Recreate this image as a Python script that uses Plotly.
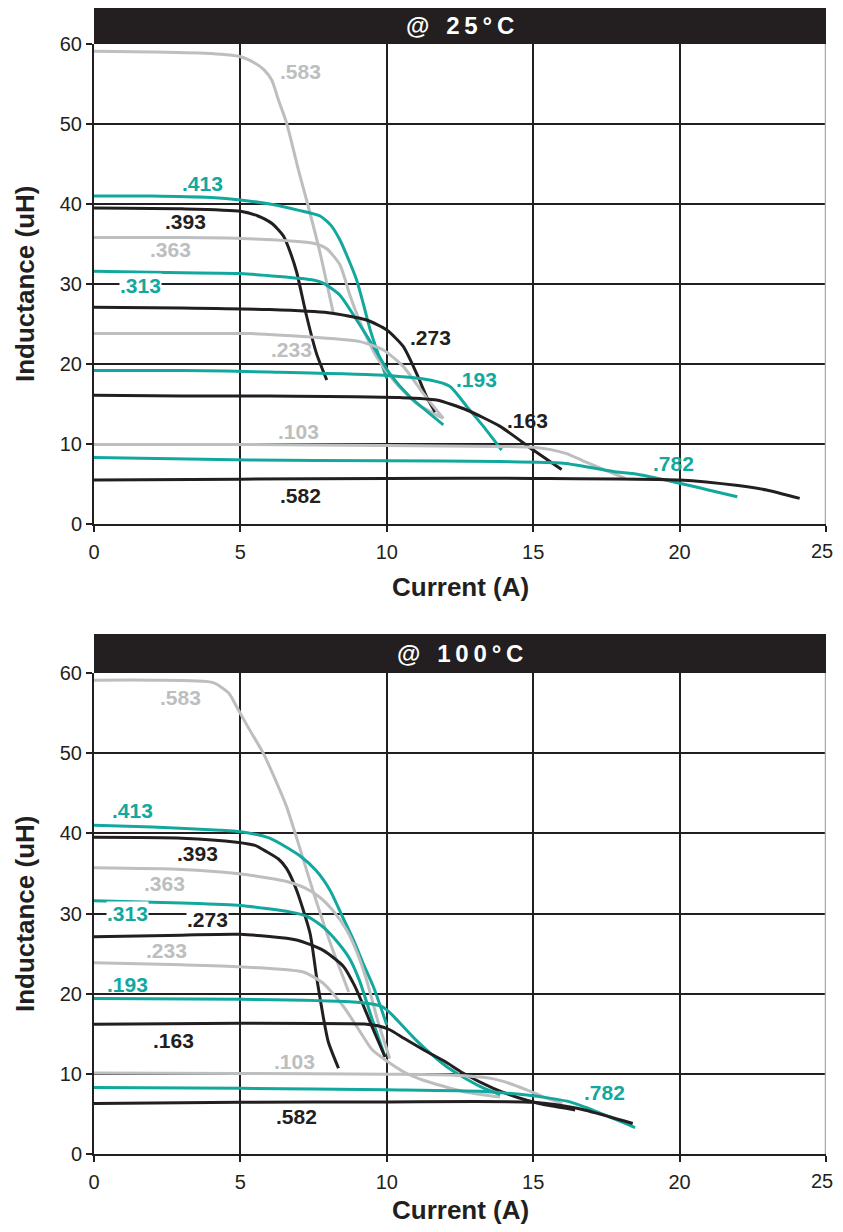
import plotly.graph_objects as go

TEAL = "#12a89e"
GRAY = "#bcbec0"
BLACK = "#231f20"
FONT = "Liberation Sans, Arial, sans-serif"

# ---------------- @ 25 °C : current (A) / inductance (uH) ----------------
I25_583 = [0, 2, 4, 5, 5.5, 5.8, 6.07, 6.3, 6.58, 7.0, 7.26, 7.72, 8.17]
L25_583 = [59.1, 59.0, 58.8, 58.4, 57.6, 56.8, 55.5, 53.0, 50.1, 44.0, 40.5, 33.9, 26.4]
I25_413 = [0, 2, 4, 5, 6, 7, 7.72, 8.1, 8.4, 8.7, 8.97, 9.2, 9.43, 9.7, 10.0]
L25_413 = [41.0, 41.0, 40.8, 40.5, 40.0, 39.2, 38.5, 37.3, 35.5, 33.0, 30.5, 27.5, 24.3, 21.3, 18.2]
I25_393 = [0, 3, 5, 5.6, 6.1, 6.47, 6.7, 6.92, 7.26, 7.6, 7.95]
L25_393 = [39.5, 39.4, 39.1, 38.5, 37.5, 36.0, 34.0, 31.5, 26.0, 21.3, 18.0]
I25_363 = [0, 3, 5, 7.49, 7.95, 8.4, 8.74, 9.2, 9.65, 10.22, 11.0, 11.93]
L25_363 = [35.8, 35.8, 35.7, 35.1, 34.4, 32.4, 28.6, 24.25, 20.9, 18.0, 15.1, 13.2]
I25_313 = [0, 3, 5, 7.49, 7.83, 8.4, 8.97, 9.54, 10.1, 10.79, 11.93]
L25_313 = [31.6, 31.4, 31.3, 30.5, 30.1, 28.6, 25.5, 22.2, 18.8, 15.9, 12.4]
I25_273 = [0, 3, 6, 8, 9.31, 10.0, 10.56, 11.02, 11.36, 11.65]
L25_273 = [27.1, 27.0, 26.8, 26.4, 25.5, 24.25, 22.2, 18.8, 15.9, 14.0]
I25_233 = [0, 3, 5.33, 9.08, 9.88, 10.56, 11.25, 11.93]
L25_233 = [23.8, 23.8, 23.8, 22.8, 21.75, 19.7, 16.3, 13.2]
I25_193 = [0, 3, 6, 9.88, 11.47, 12.16, 12.73, 13.3, 13.92]
L25_193 = [19.2, 19.2, 19.0, 18.6, 18.0, 17.2, 14.7, 12.2, 9.25]
I25_163 = [0, 3, 6, 10.45, 11.7, 12.73, 13.87, 15.0, 15.97]
L25_163 = [16.1, 16.0, 16.0, 15.8, 15.5, 14.25, 12.2, 9.25, 6.8]
I25_103 = [0, 5, 10, 14, 15, 15.6, 16.14, 16.7, 17.28, 18.15]
L25_103 = [9.95, 9.95, 9.8, 9.7, 9.6, 9.3, 8.8, 7.9, 7.0, 5.7]
I25_782 = [0, 5.33, 10, 13.87, 16.03, 17.85, 18.4, 20.0, 21.97]
L25_782 = [8.3, 8.0, 7.9, 7.8, 7.6, 6.5, 6.3, 5.1, 3.4]
I25_582 = [0, 5, 10, 15, 20, 22, 22.97, 24.1]
L25_582 = [5.5, 5.6, 5.7, 5.7, 5.5, 4.8, 4.25, 3.2]

# ---------------- @ 100 °C ----------------
I100_583 = [0, 2, 4.07, 4.6, 4.87, 5.3, 5.78, 6.24, 6.58, 7.0, 7.49, 8.1, 8.7]
L100_583 = [59.1, 59.1, 58.8, 57.5, 55.8, 53.0, 50.0, 46.3, 43.3, 38.5, 32.7, 26.0, 20.2]
I100_413 = [0, 2, 4.3, 5, 6, 7.03, 7.6, 8.06, 8.5, 8.86, 9.2, 9.54, 10.0]
L100_413 = [41.0, 40.8, 40.4, 40.2, 39.4, 37.2, 35.3, 32.9, 29.5, 26.7, 23.7, 20.9, 16.1]
I100_393 = [0, 3, 4.87, 5.5, 5.9, 6.3, 6.58, 6.92, 7.38, 7.6, 7.83, 8.0, 8.35]
L100_393 = [39.5, 39.4, 38.9, 38.5, 37.7, 36.8, 35.6, 32.9, 27.5, 22.1, 17.1, 14.0, 10.7]
I100_363 = [0, 3, 4.87, 6, 6.58, 7.2, 7.72, 8.2, 8.63, 9.0, 9.31, 9.7, 10.1]
L100_363 = [35.7, 35.5, 35.0, 34.4, 34.0, 33.2, 32.0, 30.2, 27.9, 25.0, 21.7, 16.5, 11.9]
I100_313 = [0, 3, 5, 6.69, 7.3, 7.83, 8.3, 8.74, 9.08, 9.5, 9.94]
L100_313 = [31.6, 31.3, 31.0, 30.2, 29.6, 28.3, 26.5, 24.3, 21.5, 16.8, 12.1]
I100_273 = [0, 3, 5, 6.92, 7.83, 8.52, 8.9, 9.2, 9.54, 9.94]
L100_273 = [27.1, 27.3, 27.4, 26.7, 25.4, 23.4, 21.0, 18.5, 15.5, 12.1]
I100_233 = [0, 3, 5, 7.15, 7.83, 8.52, 9.08, 9.5, 10.0, 10.6, 11.25, 12.6, 13.87]
L100_233 = [23.85, 23.6, 23.35, 22.7, 21.3, 18.4, 15.3, 13.0, 11.6, 10.2, 9.2, 7.8, 7.1]
I100_193 = [0, 5, 8.74, 9.5, 9.88, 10.2, 10.56, 11.0, 11.47, 12.0, 12.6, 13.2, 13.87]
L100_193 = [19.4, 19.3, 19.0, 18.7, 18.3, 17.3, 15.9, 14.2, 12.6, 11.0, 9.6, 8.4, 7.4]
I100_163 = [0, 5, 9.31, 9.7, 10.1, 10.6, 11.25, 12.0, 12.6, 13.64, 14.78, 15.6, 16.43]
L100_163 = [16.2, 16.3, 16.2, 16.0, 15.5, 14.4, 13.0, 11.5, 10.1, 8.2, 6.7, 6.0, 5.5]
I100_103 = [0, 5, 10, 12.16, 13.6, 14.2, 14.78, 15.3, 16.0]
L100_103 = [10.1, 10.05, 9.95, 9.85, 9.4, 8.8, 8.0, 7.2, 6.3]
I100_782 = [0, 5, 10, 13.3, 14.78, 15.5, 16.26, 16.8, 17.28, 17.9, 18.48]
L100_782 = [8.3, 8.2, 8.0, 7.8, 7.35, 7.0, 6.5, 5.8, 5.1, 4.2, 3.3]
I100_582 = [0, 5, 10, 15, 16.5, 17.6, 18.4]
L100_582 = [6.3, 6.45, 6.5, 6.45, 5.7, 4.65, 3.8]

PART_NAMES = [".583", ".413", ".393", ".363", ".313", ".273", ".233", ".193", ".163", ".103", ".782", ".582"]
PART_COLORS = [GRAY, TEAL, BLACK, GRAY, TEAL, BLACK, GRAY, TEAL, BLACK, GRAY, TEAL, BLACK]

X_TICKS = [0, 5, 10, 15, 20, 25]
X_TICK_TEXT = ["0", "5", "10", "15", "20", ""]   # last label drawn separately so it stays inside the page
X_LAST_LABEL = "25"
Y_TICKS = [0, 10, 20, 30, 40, 50, 60]
PANEL_TITLES = ["@\u2002\u20092\u20095\u2009°\u2009C", "@\u2002\u20091\u20090\u20090\u2009°\u2009C"]
X_TITLE = "Current (A)"
Y_TITLE = "Inductance (uH)"

LABEL_I_25 = [7.05, 3.72, 3.14, 2.6, 1.6, 11.48, 6.76, 13.05, 14.82, 6.97, 19.8, 7.04]
LABEL_L_25 = [56.5, 42.6, 37.75, 34.25, 29.75, 23.25, 21.75, 18.1, 12.9, 11.5, 7.6, 3.6]
LABEL_I_100 = [2.94, 1.3, 3.52, 2.42, 1.13, 3.86, 2.49, 1.16, 2.7, 6.86, 17.45, 6.93]
LABEL_L_100 = [56.9, 42.9, 37.5, 33.8, 30.05, 29.2, 25.4, 21.1, 14.2, 11.6, 7.7, 4.7]
WHITE_BG_25 = [".313"]
WHITE_BG_100 = [".313", ".273"]

SERIES_25 = [(I25_583, L25_583), (I25_413, L25_413), (I25_393, L25_393), (I25_363, L25_363),
             (I25_313, L25_313), (I25_273, L25_273), (I25_233, L25_233), (I25_193, L25_193),
             (I25_163, L25_163), (I25_103, L25_103), (I25_782, L25_782), (I25_582, L25_582)]
SERIES_100 = [(I100_583, L100_583), (I100_413, L100_413), (I100_393, L100_393), (I100_363, L100_363),
              (I100_313, L100_313), (I100_273, L100_273), (I100_233, L100_233), (I100_193, L100_193),
              (I100_163, L100_163), (I100_103, L100_103), (I100_782, L100_782), (I100_582, L100_582)]

PAGE_OFFSET = 8  # default page body margin
W, H = 843 - PAGE_OFFSET, 1232 - 2 * PAGE_OFFSET
fig = go.Figure()

def py(v):
    return 1 - (v - PAGE_OFFSET) / H

panels = [
    dict(series=SERIES_25, lx=LABEL_I_25, ly=LABEL_L_25, wbg=WHITE_BG_25, xa="x", ya="y",
         dom=[py(524), py(44)], bar=[py(44), py(8)], xt=py(587), yt=py(284), title=PANEL_TITLES[0]),
    dict(series=SERIES_100, lx=LABEL_I_100, ly=LABEL_L_100, wbg=WHITE_BG_100, xa="x2", ya="y2",
         dom=[py(1154), py(673)], bar=[py(673), py(634)], xt=py(1210), yt=py(914), title=PANEL_TITLES[1]),
]

annotations = []
shapes = []
for p in panels:
    for (xs, ys), name, col in zip(p["series"], PART_NAMES, PART_COLORS):
        fig.add_trace(go.Scatter(x=xs, y=ys, mode="lines", name=name, xaxis=p["xa"], yaxis=p["ya"],
                                 line=dict(color=col, width=3, shape="spline", smoothing=0.6),
                                 showlegend=False, hoverinfo="skip"))
    for name, col, lx, ly in zip(PART_NAMES, PART_COLORS, p["lx"], p["ly"]):
        annotations.append(dict(x=lx, y=ly, xref=p["xa"], yref=p["ya"], text="<b>%s</b>" % name,
                                showarrow=False, font=dict(family=FONT, size=21, color=col),
                                bgcolor="white" if name in p["wbg"] else None, borderpad=0))
    shapes.append(dict(type="rect", xref="paper", yref="paper", x0=0, x1=1, y0=p["bar"][0], y1=p["bar"][1],
                       fillcolor=BLACK, line=dict(width=0), layer="above"))
    annotations.append(dict(x=0.5, y=(p["bar"][0] + p["bar"][1]) / 2, xref="paper", yref="paper",
                            text="<b>%s</b>" % p["title"], showarrow=False,
                            font=dict(family=FONT, size=24, color="white"), yanchor="middle"))
    shapes.append(dict(type="line", xref=p["xa"], yref="paper", x0=25, x1=25, y0=p["dom"][0], y1=p["dom"][1],
                       line=dict(color="#a7a9ac", width=2.5), layer="above"))
    annotations.append(dict(x=0.5, y=p["xt"], xref="paper", yref="paper", text="<b>%s</b>" % X_TITLE,
                            showarrow=False, font=dict(family=FONT, size=26, color=BLACK), yanchor="middle"))
    annotations.append(dict(x=0, y=p["yt"], xref="paper", yref="paper", text="<b>%s</b>" % Y_TITLE,
                            showarrow=False, textangle=-90, xshift=-69, xanchor="center", yanchor="middle",
                            font=dict(family=FONT, size=26, color=BLACK)))
    annotations.append(dict(x=X_TICKS[-1], y=0, xref=p["xa"], yref=p["ya"], text=X_LAST_LABEL,
                            showarrow=False, xanchor="right", yanchor="middle", xshift=9, yshift=-27,
                            font=dict(family=FONT, size=20, color=BLACK)))

axis_common = dict(showgrid=True, gridcolor=BLACK, gridwidth=1.5, showline=True, linecolor=BLACK,
                   linewidth=2, ticks="outside", ticklen=6, tickwidth=1.5, tickcolor=BLACK,
                   zeroline=False, automargin=False, tickfont=dict(family=FONT, size=20, color=BLACK))

fig.update_layout(
    template="none",
    width=W, height=H, margin=dict(l=94 - PAGE_OFFSET, r=W - 826 + PAGE_OFFSET, t=0, b=0, pad=0, autoexpand=False),
    paper_bgcolor="white", plot_bgcolor="white",
    xaxis=dict(axis_common, range=[0, 25], tickvals=X_TICKS, ticktext=X_TICK_TEXT, ticklabelstandoff=3,
               anchor="y", domain=[0, 1]),
    yaxis=dict(axis_common, range=[0, 60], tickvals=Y_TICKS, anchor="x", domain=panels[0]["dom"]),
    xaxis2=dict(axis_common, range=[0, 25], tickvals=X_TICKS, ticktext=X_TICK_TEXT, ticklabelstandoff=3,
                anchor="y2", domain=[0, 1]),
    yaxis2=dict(axis_common, range=[0, 60], tickvals=Y_TICKS, anchor="x2", domain=panels[1]["dom"]),
    annotations=annotations, shapes=shapes,
)

fig.write_html("out.html")
